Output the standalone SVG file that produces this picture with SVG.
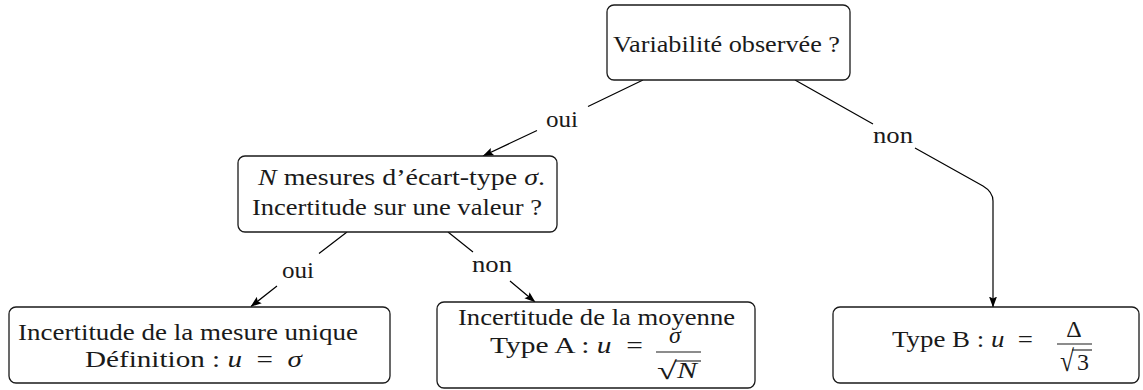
<svg xmlns="http://www.w3.org/2000/svg" width="1143" height="390" viewBox="0 0 1143 390">
<defs>
<marker id="arr" markerWidth="12" markerHeight="9" refX="10.5" refY="4.2" orient="auto" markerUnits="userSpaceOnUse">
<path d="M0,0.2 L11,4.2 L0,8.2 L2,4.2 z" fill="#000"/>
</marker>
<style>
.box{fill:#fff;stroke:#1a1a1a;stroke-width:1.3}
.m{font-style:italic}
.c{fill:none;stroke:#000;stroke-width:1.2}
</style>
</defs>
<g id="connectors">
<path class="c" d="M643,80 L588,106.5 M537,130.5 L483,156" marker-end="url(#arr)"/>
<path class="c" d="M795,80 L873,124 M915,148 L983,186 Q993,192 993,201 L993,307" marker-end="url(#arr)"/>
<path class="c" d="M347,232 L319,253.5 M277,286 L251,306.5" marker-end="url(#arr)"/>
<path class="c" d="M448,232 L473,252 M510,281 L535,302" marker-end="url(#arr)"/>
<g font-family="Liberation Serif" font-size="24" fill="#1a1a1a" text-anchor="middle">
<text x="562" y="127" textLength="32" lengthAdjust="spacingAndGlyphs">oui</text>
<text x="893" y="143" textLength="40" lengthAdjust="spacingAndGlyphs">non</text>
<text x="298" y="278" textLength="32" lengthAdjust="spacingAndGlyphs">oui</text>
<text x="492" y="272" textLength="40" lengthAdjust="spacingAndGlyphs">non</text>
</g>
</g>
<g font-family="Liberation Serif" font-size="24" fill="#1a1a1a">
<g id="n-top">
<rect class="box" x="607" y="5" width="243" height="75" rx="7"/>
<text x="613" y="52" textLength="227" lengthAdjust="spacingAndGlyphs">Variabilité observée ?</text>
</g>
<g id="n-mid">
<rect class="box" x="238" y="156" width="319" height="76" rx="7"/>
<text x="258" y="185" textLength="287" lengthAdjust="spacingAndGlyphs"><tspan class="m">N</tspan> mesures d’écart-type <tspan class="m">σ</tspan>.</text>
<text x="252" y="215" textLength="290" lengthAdjust="spacingAndGlyphs">Incertitude sur une valeur ?</text>
</g>
<g id="n-unique">
<rect class="box" x="9" y="307" width="381" height="76" rx="7"/>
<text x="18" y="340" textLength="340" lengthAdjust="spacingAndGlyphs">Incertitude de la mesure unique</text>
<text x="85" y="367" textLength="217" lengthAdjust="spacingAndGlyphs" xml:space="preserve">Définition : <tspan class="m">u</tspan>  =  <tspan class="m">σ</tspan></text>
</g>
<g id="n-moyenne">
<rect class="box" x="437" y="302" width="318" height="86" rx="7"/>
<text x="458" y="325" textLength="277" lengthAdjust="spacingAndGlyphs">Incertitude de la moyenne</text>
<text x="490" y="353" textLength="153" lengthAdjust="spacingAndGlyphs" xml:space="preserve">Type A : <tspan class="m">u</tspan>  =</text>
<text class="m" x="675" y="343" text-anchor="middle">σ</text>
<line x1="656" y1="352" x2="701" y2="352" stroke="#1a1a1a" stroke-width="1.2"/>
<text x="657" y="379" font-size="25" textLength="20" lengthAdjust="spacingAndGlyphs">√</text>
<text class="m" x="677" y="378" textLength="20" lengthAdjust="spacingAndGlyphs">N</text>
<line x1="675" y1="361" x2="701" y2="361" stroke="#1a1a1a" stroke-width="1.1"/>
</g>
<g id="n-typeB">
<rect class="box" x="833" y="307" width="306" height="76" rx="7"/>
<text x="892" y="347" textLength="141" lengthAdjust="spacingAndGlyphs" xml:space="preserve">Type B : <tspan class="m">u</tspan>  =</text>
<text x="1074" y="337" text-anchor="middle">Δ</text>
<line x1="1057" y1="344" x2="1092" y2="344" stroke="#1a1a1a" stroke-width="1.2"/>
<text x="1060" y="371" font-size="30" textLength="14" lengthAdjust="spacingAndGlyphs">√</text>
<text x="1077" y="370">3</text>
<line x1="1072" y1="350" x2="1092" y2="350" stroke="#1a1a1a" stroke-width="1.1"/>
</g>
</g>
</svg>
